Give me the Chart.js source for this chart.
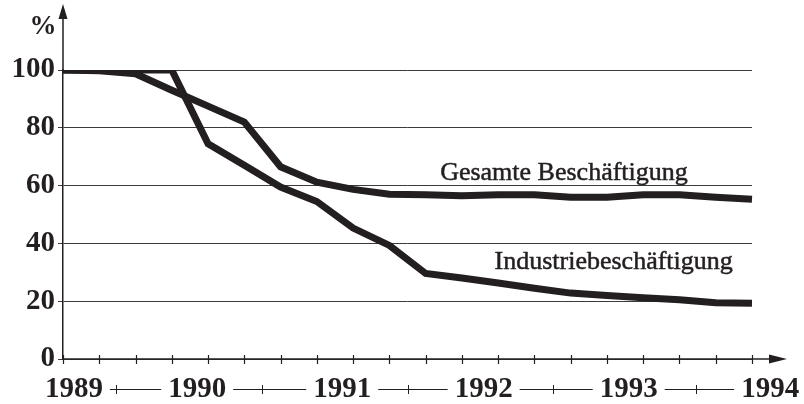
<!DOCTYPE html>
<html>
<head>
<meta charset="utf-8">
<script src="https://cdn.jsdelivr.net/npm/chart.js@4.4.1/dist/chart.umd.min.js"></script>
<style>
  html, body { margin: 0; padding: 0; background: #fff; }
  #wrap { width: 804px; height: 404px; }
</style>
</head>
<body>
<div id="wrap"><canvas id="chart" width="804" height="404"></canvas></div>
<script>
// quarters 1989 I .. 1993 IV
const quarters = [
  "I/89","II/89","III/89","IV/89",
  "I/90","II/90","III/90","IV/90",
  "I/91","II/91","III/91","IV/91",
  "I/92","II/92","III/92","IV/92",
  "I/93","II/93","III/93","IV/93"
];

// index, 1989 = 100 (%)
const gesamt    = [100, 99.7, 98.7, 93, 87.5, 82, 66.5, 61.2, 58.7, 57, 56.8, 56.5, 56.8, 56.8, 56, 56, 56.8, 56.8, 56, 55.3];
const industrie = [100, 100, 100, 100, 74.5, 67, 59.5, 54.5, 45.3, 39.3, 29.6, 28, 26.3, 24.5, 22.8, 22, 21.2, 20.5, 19.5, 19.3];

const yTicks = [0, 20, 40, 60, 80, 100];

// year labels under the axis (position in quarter units)
const yearLabels = ["1989", "1990", "1991", "1992", "1993", "1994"];
const yearPos    = [0.3, 3.7, 7.7, 11.6, 15.6, 19.5];
const sepPos     = [1.45, 5.5, 9.5, 13.5, 17.45];

// line labels: text, x (quarter units), y (%)
const lineLabels = ["Gesamte Beschäftigung", "Industriebeschäftigung"];
const lineLabelX = [10.4, 11.9];
const lineLabelY = [61.9, 31.3];

const INK = "#231f20";
const SERIF = "'Liberation Serif', 'Times New Roman', serif";

// axis arrows, quarter ticks, year row, % and line labels
const decor = {
  id: "decor",
  afterDraw(chart) {
    const ctx = chart.ctx;
    const a = chart.chartArea;
    const xs = chart.scales.x;
    ctx.save();
    ctx.strokeStyle = INK;
    ctx.fillStyle = INK;

    // y axis extension + arrow
    ctx.lineWidth = 1.5;
    ctx.beginPath();
    ctx.moveTo(a.left, a.top);
    ctx.lineTo(a.left, a.top - 54);
    ctx.stroke();
    ctx.beginPath();
    ctx.moveTo(a.left, a.top - 66);
    ctx.lineTo(a.left - 4.5, a.top - 51);
    ctx.lineTo(a.left + 4.5, a.top - 51);
    ctx.closePath();
    ctx.fill();

    // x axis + arrow
    ctx.beginPath();
    ctx.moveTo(a.left, a.bottom);
    ctx.lineTo(a.right + 22, a.bottom);
    ctx.stroke();
    ctx.beginPath();
    ctx.moveTo(a.right + 35, a.bottom);
    ctx.lineTo(a.right + 17, a.bottom - 4.5);
    ctx.lineTo(a.right + 17, a.bottom + 4.5);
    ctx.closePath();
    ctx.fill();

    // quarter ticks
    ctx.lineWidth = 1.2;
    for (let i = 0; i < quarters.length; i++) {
      const px = Math.round(xs.getPixelForValue(i)) + 0.5;
      ctx.beginPath();
      ctx.moveTo(px, a.bottom - 4);
      ctx.lineTo(px, a.bottom + 5);
      ctx.stroke();
    }

    // year row
    const rowY = a.bottom + 30;
    ctx.font = "bold 29px " + SERIF;
    ctx.textAlign = "center";
    ctx.textBaseline = "middle";
    const boxes = yearLabels.map((t, i) => {
      const cx = xs.getPixelForValue(yearPos[i]);
      const w = ctx.measureText(t).width;
      ctx.fillText(t, cx, rowY + 1);
      return { l: cx - w / 2, r: cx + w / 2 };
    });
    ctx.lineWidth = 1;
    for (let i = 0; i < sepPos.length; i++) {
      const x0 = boxes[i].r + 7, x1 = boxes[i + 1].l - 7;
      ctx.beginPath();
      ctx.moveTo(x0, rowY + 0.5);
      ctx.lineTo(x1, rowY + 0.5);
      ctx.stroke();
      const px = Math.round(xs.getPixelForValue(sepPos[i])) + 0.5;
      ctx.beginPath();
      ctx.moveTo(px, rowY - 4);
      ctx.lineTo(px, rowY + 5);
      ctx.stroke();
    }

    // unit
    ctx.font = "bold 27px " + SERIF;
    ctx.fillText("%", a.left - 20, a.top - 43);

    // line labels (slightly heavier, like the print)
    const ys = chart.scales.y;
    ctx.font = "26px " + SERIF;
    ctx.textAlign = "left";
    ctx.textBaseline = "alphabetic";
    ctx.lineWidth = 0.5;
    lineLabels.forEach((t, i) => {
      const px = xs.getPixelForValue(lineLabelX[i]);
      const py = ys.getPixelForValue(lineLabelY[i]);
      ctx.fillText(t, px, py);
      ctx.strokeText(t, px, py);
    });
    ctx.restore();
  }
};

const lineStyle = { borderColor: INK, borderWidth: 7, pointRadius: 0, tension: 0, fill: false };

new Chart(document.getElementById("chart").getContext("2d"), {
  type: "line",
  data: {
    labels: quarters,
    datasets: [
      { label: lineLabels[0], data: gesamt, ...lineStyle },
      { label: lineLabels[1], data: industrie, ...lineStyle }
    ]
  },
  options: {
    responsive: false,
    animation: false,
    layout: { padding: { top: 70, right: 52, bottom: 0, left: 0 } },
    plugins: { legend: { display: false }, tooltip: { enabled: false } },
    scales: {
      x: {
        offset: false,
        grid: { display: false },
        border: { display: false },
        ticks: { display: false },
        afterFit(s) { s.height = 45; }
      },
      y: {
        min: 0,
        max: 100,
        afterBuildTicks(s) { s.ticks = yTicks.map(v => ({ value: v })); },
        ticks: { color: INK, padding: 3, font: { family: SERIF, size: 29, weight: "bold" } },
        grid: { color: "#3c3a3a", lineWidth: 1, tickLength: 5 },
        border: { color: INK, width: 1.5 },
        afterFit(s) { s.width = 63; }
      }
    }
  },
  plugins: [decor]
});
</script>
</body>
</html>
